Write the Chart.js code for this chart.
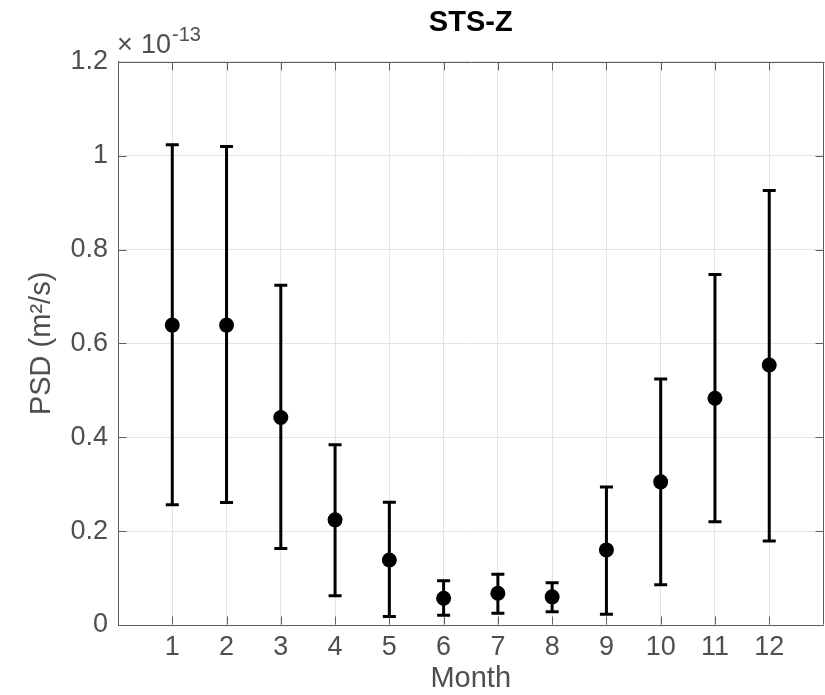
<!DOCTYPE html>
<html>
<head>
<meta charset="utf-8">
<script src="https://cdn.jsdelivr.net/npm/chart.js@4.4.0/dist/chart.umd.min.js"></script>
<style>
html,body{margin:0;padding:0;overflow:hidden;background:#fff;width:825px;height:695px}
#wrap{width:831px;height:695px}
</style>
</head>
<body>
<div id="wrap"><canvas id="c" width="831" height="695"></canvas></div>
<script>
// ---- data (PSD values in units of 1e-13 m^2/s) ----
const chartTitle = 'STS-Z';
const xAxisLabel = 'Month';
const yAxisLabel = 'PSD (m²/s)';
const yExponentBase = '×10';
const yExponent = '-13';
const months   = [1, 2, 3, 4, 5, 6, 7, 8, 9, 10, 11, 12];
const psdMean  = [0.639, 0.639, 0.442, 0.224, 0.1385, 0.057, 0.0675, 0.060, 0.160, 0.305, 0.483, 0.554];
const psdLower = [0.256, 0.261, 0.163, 0.0625, 0.018, 0.021, 0.025, 0.028, 0.023, 0.086, 0.220, 0.179];
const psdUpper = [1.023, 1.0195, 0.724, 0.384, 0.2615, 0.0945, 0.108, 0.090, 0.294, 0.524, 0.747, 0.926];
const xTickValues = [1, 2, 3, 4, 5, 6, 7, 8, 9, 10, 11, 12];
const yTickValues = [0, 0.2, 0.4, 0.6, 0.8, 1, 1.2];
const xRange = [0, 13];
const yRange = [0, 1.2];

const FONT = '"Liberation Sans", Arial, Helvetica, sans-serif';
const TEXT = '#4f4f4f';
const AXIS = '#5e5e5e';
const GRID = '#e4e4e4';

const decor = {
  id: 'decor',
  beforeDatasetsDraw(chart) {
    const {ctx, scales: {x, y}} = chart;
    ctx.save();
    ctx.strokeStyle = '#000';
    ctx.lineWidth = 3;
    ctx.lineCap = 'butt';
    months.forEach((m, i) => {
      const px = x.getPixelForValue(m);
      const pu = y.getPixelForValue(psdUpper[i]);
      const pl = y.getPixelForValue(psdLower[i]);
      ctx.beginPath();
      ctx.moveTo(px, pu); ctx.lineTo(px, pl);
      ctx.moveTo(px - 6.5, pu); ctx.lineTo(px + 6.5, pu);
      ctx.moveTo(px - 6.5, pl); ctx.lineTo(px + 6.5, pl);
      ctx.stroke();
    });
    ctx.restore();
  },
  afterDraw(chart) {
    const {ctx, chartArea: a, scales: {x, y}} = chart;
    ctx.save();
    ctx.strokeStyle = AXIS;
    ctx.lineWidth = 1;
    const L = Math.round(a.left) + 0.5, R = Math.round(a.right) - 0.5;
    const T = Math.round(a.top) + 0.5, B = Math.round(a.bottom) - 0.5;
    ctx.beginPath();
    ctx.moveTo(L, T); ctx.lineTo(R + 1, T);
    ctx.moveTo(R, T); ctx.lineTo(R, B);
    const tl = 8;
    xTickValues.forEach(v => {
      const px = Math.round(x.getPixelForValue(v)) + 0.5;
      ctx.moveTo(px, B); ctx.lineTo(px, B - tl);
      ctx.moveTo(px, T); ctx.lineTo(px, T + tl);
    });
    yTickValues.forEach(v => {
      const py = Math.round(y.getPixelForValue(v)) + 0.5;
      ctx.moveTo(L, py); ctx.lineTo(L + tl, py);
      ctx.moveTo(R, py); ctx.lineTo(R - tl, py);
    });
    ctx.stroke();
    // exponent label
    ctx.fillStyle = TEXT;
    ctx.textAlign = 'left';
    ctx.textBaseline = 'alphabetic';
    ctx.font = '27px ' + FONT;
    ctx.fillText(yExponentBase.charAt(0), a.left - 1, a.top - 9);
    ctx.fillText(yExponentBase.slice(1), a.left + 23, a.top - 9);
    ctx.font = '20px ' + FONT;
    ctx.fillText(yExponent, a.left + 54, a.top - 21);
    ctx.restore();
  }
};

new Chart(document.getElementById('c'), {
  type: 'scatter',
  data: {
    datasets: [{
      data: months.map((m, i) => ({x: m, y: psdMean[i]})),
      pointRadius: 7.5,
      pointHoverRadius: 7.5,
      pointBackgroundColor: '#000',
      pointBorderWidth: 0,
      showLine: false
    }]
  },
  options: {
    responsive: false,
    animation: false,
    devicePixelRatio: 1,
    layout: {padding: 0},
    plugins: {
      legend: {display: false},
      tooltip: {enabled: false},
      title: {
        display: true,
        text: chartTitle,
        fullSize: false,
        color: '#000',
        font: {family: FONT, size: 29, weight: 'bold'},
        padding: {top: 6, bottom: 21}
      }
    },
    scales: {
      x: {
        type: 'linear',
        min: xRange[0], max: xRange[1],
        afterBuildTicks: s => { s.ticks = xTickValues.map(v => ({value: v})); },
        afterFit: s => { s.height = 70; },
        grid: {color: GRID, lineWidth: 1, drawTicks: false},
        border: {display: true, color: AXIS, width: 1},
        ticks: {color: TEXT, font: {family: FONT, size: 27}, padding: 6, maxRotation: 0, autoSkip: false,
                callback: v => String(v)},
        title: {display: true, text: xAxisLabel, color: TEXT, font: {family: FONT, size: 29},
                padding: {top: 0, bottom: -1}}
      },
      y: {
        type: 'linear',
        min: yRange[0], max: yRange[1],
        afterBuildTicks: s => { s.ticks = yTickValues.map(v => ({value: v})); },
        afterFit: s => { s.width = 118; },
        grid: {color: GRID, lineWidth: 1, drawTicks: false},
        border: {display: true, color: AXIS, width: 1},
        ticks: {color: TEXT, font: {family: FONT, size: 27}, padding: 10,
                callback: v => String(+Number(v).toFixed(1))},
        title: {display: true, text: yAxisLabel, color: TEXT, font: {family: FONT, size: 29},
                padding: {top: 25, bottom: 0}}
      }
    }
  },
  plugins: [decor]
});
</script>
</body>
</html>
